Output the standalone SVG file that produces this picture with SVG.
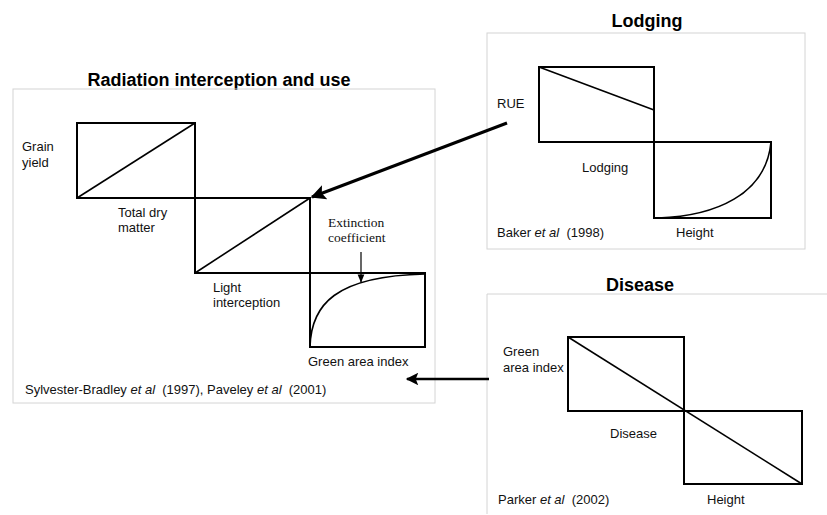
<svg xmlns="http://www.w3.org/2000/svg" width="827" height="515" viewBox="0 0 827 515">
<style>
.panel{fill:none;stroke:#d4d4d4;stroke-width:1}
.box{fill:none;stroke:#000;stroke-width:2}
.curve{fill:none;stroke:#000;stroke-width:1.6}
.lbl{font-family:"Liberation Sans",Arial,sans-serif;font-size:13px;fill:#111}
.ser{font-family:"Liberation Serif","Times New Roman",serif;font-size:13.5px;fill:#111}
.title{font-family:"Liberation Sans",Arial,sans-serif;font-size:18px;font-weight:bold;fill:#000;text-anchor:middle}
.conn{fill:none;stroke:#000}
.pre{white-space:pre}
</style>
<defs>
<marker id="big" viewBox="0 0 10 10" refX="9" refY="5" markerWidth="6" markerHeight="5" markerUnits="strokeWidth" orient="auto">
<path d="M0,0 L10,5 L0,10 L2,5 z" fill="#000"/>
</marker>
<marker id="small" viewBox="0 0 10 10" refX="9" refY="5" markerWidth="8" markerHeight="7" markerUnits="strokeWidth" orient="auto">
<path d="M0,1 L10,5 L0,9 z" fill="#000"/>
</marker>
</defs>
<rect width="827" height="515" fill="#fff"/>

<g id="radiation">
<text class="title" x="219" y="86">Radiation interception and use</text>
<rect class="panel" x="13" y="89" width="422" height="314"/>
<rect class="box" x="77" y="123" width="118" height="75"/>
<line class="curve" x1="77" y1="198" x2="195" y2="123"/>
<rect class="box" x="195" y="198" width="115" height="75"/>
<line class="curve" x1="195" y1="273" x2="310" y2="198"/>
<rect class="box" x="310" y="273" width="115" height="74"/>
<path class="curve" d="M310,347 C311,305 335,276 425,274"/>
<text class="lbl" x="22" y="151">Grain</text>
<text class="lbl" x="22" y="167">yield</text>
<text class="lbl" x="118" y="217">Total dry</text>
<text class="lbl" x="118" y="232">matter</text>
<text class="lbl" x="213" y="292">Light</text>
<text class="lbl" x="213" y="307">interception</text>
<text class="ser" x="328" y="227">Extinction</text>
<text class="ser" x="328" y="242">coefficient</text>
<text class="lbl" x="308" y="366">Green area index</text>
<text class="lbl pre" x="25" y="394">Sylvester-Bradley <tspan font-style="italic">et al</tspan>  (1997), Paveley <tspan font-style="italic">et al</tspan>  (2001)</text>
</g>

<g id="lodging">
<text class="title" x="647" y="27">Lodging</text>
<rect class="panel" x="487" y="33" width="318" height="216"/>
<rect class="box" x="539" y="67" width="115" height="75"/>
<line class="curve" x1="539" y1="67" x2="654" y2="110"/>
<rect class="box" x="654" y="142" width="117" height="76"/>
<path class="curve" d="M658,218 C715,216 766,195 771,142"/>
<text class="lbl" x="497" y="108">RUE</text>
<text class="lbl" x="582" y="172">Lodging</text>
<text class="lbl pre" x="497" y="237">Baker <tspan font-style="italic">et al</tspan>  (1998)</text>
<text class="lbl" x="676" y="237">Height</text>
</g>

<g id="disease">
<text class="title" x="640" y="291">Disease</text>
<path class="panel" d="M487,514 L487,294 L827,294"/>
<rect class="box" x="568" y="337" width="116" height="74"/>
<rect class="box" x="684" y="411" width="118" height="73"/>
<line class="curve" x1="568" y1="337" x2="802" y2="484"/>
<text class="lbl" x="503" y="356">Green</text>
<text class="lbl" x="503" y="372">area index</text>
<text class="lbl" x="610" y="438">Disease</text>
<text class="lbl pre" x="498" y="504">Parker <tspan font-style="italic">et al</tspan>  (2002)</text>
<text class="lbl" x="707" y="504">Height</text>
</g>

<g id="connectors">
<line class="conn" stroke-width="3" x1="507" y1="123" x2="312" y2="197" marker-end="url(#big)"/>
<line class="conn" stroke-width="2.5" x1="489" y1="379" x2="407" y2="379" marker-end="url(#big)"/>
<line class="conn" stroke-width="1.2" x1="361" y1="252" x2="361" y2="282" marker-end="url(#small)"/>
</g>
</svg>
